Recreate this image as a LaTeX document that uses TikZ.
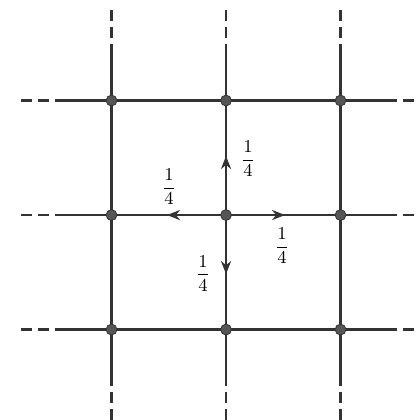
\documentclass[tikz,border=0pt]{standalone}
\usetikzlibrary{arrows.meta,positioning,calc}
\definecolor{ink}{HTML}{333333}
\definecolor{dotgray}{HTML}{555555}
\tikzset{
  gridline/.style={ink,line width=1.1pt},
  gridend/.style={ink,line width=1.1pt,dash pattern=on 5.5pt off 3pt,dash phase=5.5pt},
  site/.style={circle,fill=dotgray,draw=ink,line width=0.4pt,inner sep=0pt,minimum size=5.4pt},
  hop/.style={-{Stealth[length=6.4pt,width=5pt,inset=2pt]},ink,line width=1.1pt},
  prob/.style={font=\small,inner sep=0pt}
}
\begin{document}
\begin{tikzpicture}[x=2cm,y=2cm]
    \useasboundingbox (-1.974,-1.790) rectangle (1.686,1.878);
    % lattice lines: solid part, then dashed ends
    \foreach \k in {-1,0,1}{
      \coordinate (hw\k) at (-1.493,\k); \coordinate (hww\k) at (-1.79,\k);
      \coordinate (he\k) at (1.493,\k);  \coordinate (hee\k) at (1.79,\k);
      \coordinate (vs\k) at (\k,-1.493); \coordinate (vss\k) at (\k,-1.79);
      \coordinate (vn\k) at (\k,1.493);  \coordinate (vnn\k) at (\k,1.79);
      \draw[gridline] (hw\k) -- (he\k); \draw[gridline] (vs\k) -- (vn\k);
      \draw[gridend] (hw\k) -- (hww\k); \draw[gridend] (he\k) -- (hee\k);
      \draw[gridend] (vs\k) -- (vss\k); \draw[gridend] (vn\k) -- (vnn\k);
    }
    % lattice sites
    \node[site] (nw) at (-1,1) {}; \node[site] (n) at (0,1) {}; \node[site] (ne) at (1,1) {};
    \node[site] (w) at (-1,0) {};  \node[site] (c) at (0,0) {}; \node[site] (e) at (1,0) {};
    \node[site] (sw) at (-1,-1) {}; \node[site] (s) at (0,-1) {}; \node[site] (se) at (1,-1) {};
    % jumps from the centre site
    \draw[hop] (c) -- ($(c)!0.515!(n)$); \draw[hop] (c) -- ($(c)!0.515!(w)$);
    \draw[hop] (c) -- ($(c)!0.515!(e)$); \draw[hop] (c) -- ($(c)!0.515!(s)$);
    \node[prob] (pn) at ($(c)+(0.192,0.489)$) {$\displaystyle\frac{1}{4}$};
    \node[prob] (pw) at ($(c)+(-0.498,0.245)$) {$\displaystyle\frac{1}{4}$};
    \node[prob] (pe) at ($(c)+(0.49,-0.27)$) {$\displaystyle\frac{1}{4}$};
    \node[prob] (ps) at ($(c)+(-0.20,-0.51)$) {$\displaystyle\frac{1}{4}$};
  \end{tikzpicture}
\end{document}
